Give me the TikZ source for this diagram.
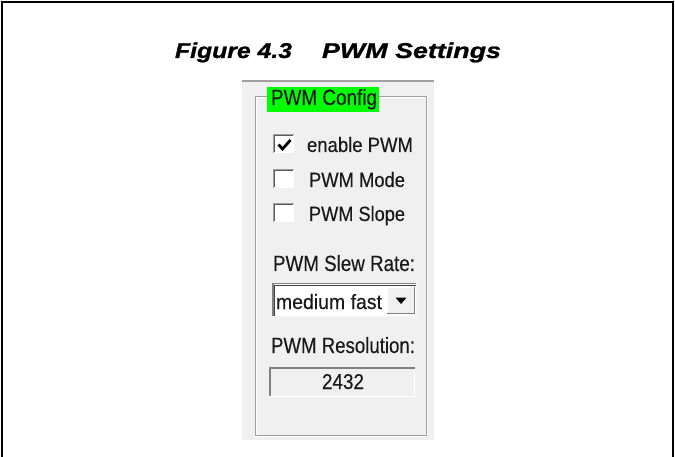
\documentclass[tikz,border=0pt]{standalone}
\usepackage{fontspec}
\usepackage{graphicx}
\setmainfont{Liberation Sans}
\newfontfamily\uifont[FakeBold=0.35]{Liberation Sans}
\newfontfamily\titlefont[BoldItalicFeatures={FakeBold=1.0}]{Liberation Sans}
\definecolor{panelbg}{HTML}{F0F0F0}
\definecolor{edgegray}{HTML}{A0A0A0}
\definecolor{darkedge}{HTML}{808080}
\definecolor{labelgreen}{HTML}{00FF00}
\definecolor{uitext}{HTML}{1A1A1A}
\newcommand{\fitto}[3]{\resizebox{#1pt}{#2pt}{#3}}
\tikzset{
  uilabel/.style={anchor=base west, inner sep=0pt, outer sep=0pt, text=uitext, font=\uifont},
  titlelabel/.style={anchor=base west, inner sep=0pt, outer sep=0pt, text=black, font=\titlefont\bfseries\itshape},
}
\begin{document}
\begin{tikzpicture}[x=1pt,y=-1pt]
\useasboundingbox (0,0) rectangle (675,457);
% outer frame (open at bottom)
\draw[line width=2pt] (2,457) -- (2,2) -- (673,2) -- (673,457);
% title
\node[titlelabel] (t1) at (175,58) {\fitto{117}{15.5}{Figure 4.3}};
\node[titlelabel] (t2) at (322,58) {\fitto{179}{15.5}{PWM Settings}};
% panel
\fill[panelbg] (242,80) rectangle (434,440);
\draw[edgegray, line width=1.5pt] (242,81) -- (434,81);
% group box (etched)
\draw[edgegray, line width=1pt] (255,97) rectangle (426,435);
\draw[white, line width=1pt] (256,98) -- (425,98);
\draw[white, line width=1pt] (256,98) -- (256,434);
\draw[white, line width=1pt] (254,436) -- (427,436);
\draw[white, line width=1pt] (427,96) -- (427,436);
% group label
\fill[labelgreen] (267,87) rectangle (379,112);
\node[uilabel] (cfg) at (271,105) {\fitto{106}{16}{PWM Config}};
% checkboxes
\foreach \yt in {134,169,203}{
  \fill[white] (273,\yt) rectangle (294,\yt+19);
  \draw[edgegray, line width=1pt] (273.5,\yt+19) -- (273.5,\yt+0.5) -- (294,\yt+0.5);
  \draw[darkedge!70!black, line width=1pt] (274.5,\yt+18) -- (274.5,\yt+1.5) -- (293,\yt+1.5);
}
\draw[black, line width=2.8pt, line cap=butt, line join=miter] (278.5,144.5) -- (282.5,149) -- (290.5,140);
\node[uilabel] (en) at (307,152) {\fitto{106}{15}{enable PWM}};
\node[uilabel] (md) at (309,187) {\fitto{96}{15}{PWM Mode}};
\node[uilabel] (sl) at (309,221) {\fitto{96}{15}{PWM Slope}};
% slew rate
\node[uilabel] (sr) at (273,271) {\fitto{142}{16}{PWM Slew Rate:}};
\fill[white] (272,283) rectangle (417,317);
\draw[darkedge, line width=1.5pt] (272.75,317) -- (272.75,283.75) -- (417,283.75);
\draw[black!75, line width=1pt] (274.5,316) -- (274.5,285.5) -- (416,285.5);
\draw[panelbg!60!white, line width=1pt] (272,316.5) -- (416.5,316.5) -- (416.5,283);
\node[uilabel] (mf) at (276,309) {\fitto{106}{15}{medium fast}};
\fill[panelbg] (387,287) rectangle (415,314);
\draw[white, line width=1pt] (387.5,314) -- (387.5,287.5) -- (415,287.5);
\draw[darkedge, line width=1.5pt] (387,313.25) -- (414.25,313.25) -- (414.25,287);
\fill[black] (395.5,297.5) -- (406.5,297.5) -- (401,304) -- cycle;
% resolution
\node[uilabel] (rs) at (271,353) {\fitto{144}{16}{PWM Resolution:}};
\fill[panelbg] (269,367) rectangle (415,397);
\draw[darkedge, line width=2pt] (270,397) -- (270,368) -- (415,368);
\draw[white, line width=1pt] (269,396.5) -- (414.5,396.5) -- (414.5,369);
\node[uilabel] (val) at (322,389) {\fitto{42}{15}{2432}};
\end{tikzpicture}
\end{document}
